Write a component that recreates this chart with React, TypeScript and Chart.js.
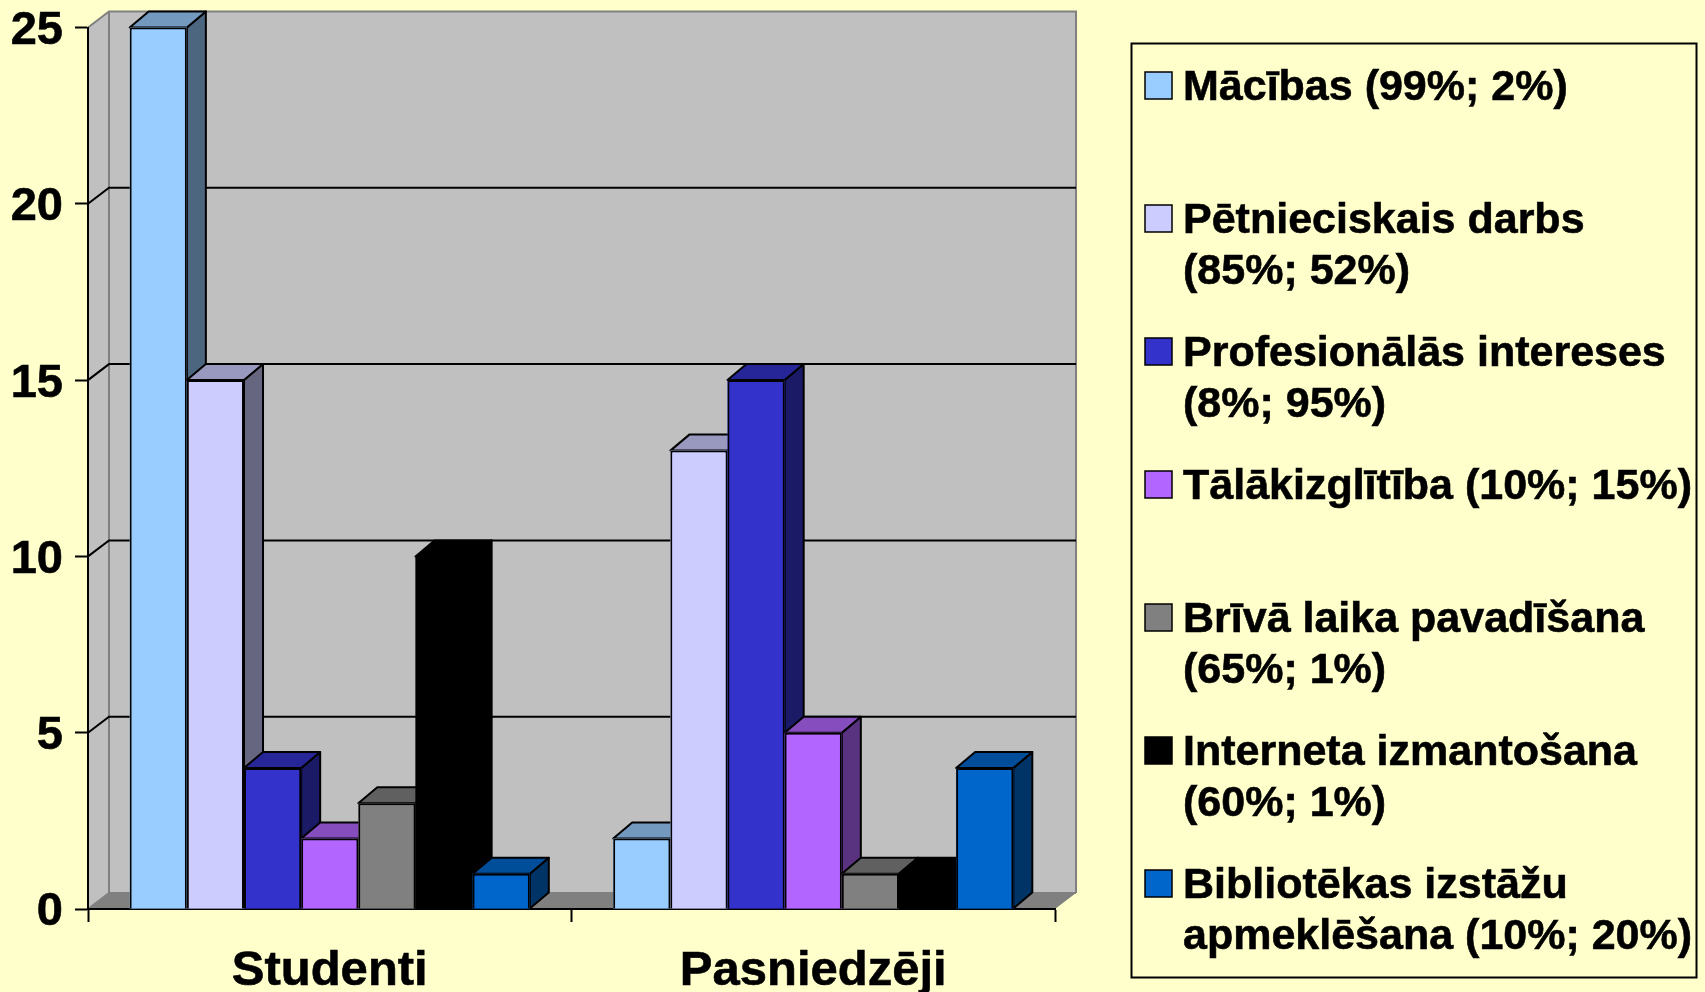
import React, { useEffect, useRef } from "react";
import { Chart, registerables } from "chart.js";

Chart.register(...registerables);

const categories = ["Studenti", "Pasniedzēji"];
const seriesNames = [
  "Mācības (99%; 2%)",
  "Pētnieciskais darbs (85%; 52%)",
  "Profesionālās intereses (8%; 95%)",
  "Tālākizglītība (10%; 15%)",
  "Brīvā laika pavadīšana (65%; 1%)",
  "Interneta izmantošana (60%; 1%)",
  "Bibliotēkas izstāžu apmeklēšana (10%; 20%)",
];
const legendLines = [
  ["Mācības (99%; 2%)"],
  ["Pētnieciskais darbs", "(85%; 52%)"],
  ["Profesionālās intereses", "(8%; 95%)"],
  ["Tālākizglītība (10%; 15%)"],
  ["Brīvā laika pavadīšana", "(65%; 1%)"],
  ["Interneta izmantošana", "(60%; 1%)"],
  ["Bibliotēkas izstāžu", "apmeklēšana (10%; 20%)"],
];
const macibas = [25, 2];
const petnieciskais = [15, 13];
const profesionalas = [4, 15];
const talakizglitiba = [2, 5];
const brivaLaika = [3, 1];
const interneta = [10, 1];
const biblioteka = [1, 4];
const seriesValues = [macibas, petnieciskais, profesionalas, talakizglitiba, brivaLaika, interneta, biblioteka];
const seriesColors = ["#99CCFF", "#CCCCFF", "#3333CC", "#B266FF", "#808080", "#000000", "#0066CC"];

const FONT = '"Liberation Sans", Arial, sans-serif';
const PAGE_BG = "#FFFFCC";
const WALL = "#C0C0C0";
const FLOOR = "#808080";
const WALL_DX = 21;
const WALL_DY = 16;
const BAR_DX = 19;
const BAR_DY = 16;

function shade(hex: string, f: number) {
  const n = parseInt(hex.slice(1), 16);
  const c = [(n >> 16) & 255, (n >> 8) & 255, n & 255].map((v) => Math.round(v * f));
  return `rgb(${c[0]},${c[1]},${c[2]})`;
}

function poly(ctx: CanvasRenderingContext2D, pts: number[][], fill: string, stroke: string | null, lw = 2) {
  ctx.beginPath();
  pts.forEach((p, i) => (i ? ctx.lineTo(p[0], p[1]) : ctx.moveTo(p[0], p[1])));
  ctx.closePath();
  ctx.fillStyle = fill;
  ctx.fill();
  if (stroke) {
    ctx.strokeStyle = stroke;
    ctx.lineWidth = lw;
    ctx.lineJoin = "round";
    ctx.stroke();
  }
}

const walls3d = {
  id: "walls3d",
  beforeDraw(chart: any) {
    const { ctx, chartArea: a, scales } = chart;
    const { left: l, right: r, bottom: b, top: t } = a;

    // nudge the value labels down to sit like the reference's
    const items = scales.y.getLabelItems(a);
    if (!items._nudged) {
      items.forEach((it: any) => {
        it.options.translation = [it.options.translation[0], it.options.translation[1] + 3.5];
      });
      items._nudged = true;
    }

    ctx.save();
    poly(ctx, [[l, t], [l + WALL_DX, t - WALL_DY], [l + WALL_DX, b - WALL_DY], [l, b]], WALL, null);
    poly(ctx, [[l + WALL_DX, t - WALL_DY], [r + WALL_DX, t - WALL_DY], [r + WALL_DX, b - WALL_DY], [l + WALL_DX, b - WALL_DY]], WALL, null);
    poly(ctx, [[l, b], [l + WALL_DX, b - WALL_DY], [r + WALL_DX, b - WALL_DY], [r, b]], FLOOR, null);

    // wall outlines
    ctx.strokeStyle = FLOOR;
    ctx.lineWidth = 2;
    ctx.beginPath();
    ctx.moveTo(l, t);
    ctx.lineTo(l + WALL_DX, t - WALL_DY);
    ctx.lineTo(r + WALL_DX, t - WALL_DY);
    ctx.lineTo(r + WALL_DX, b - WALL_DY);
    ctx.moveTo(l + WALL_DX, t - WALL_DY);
    ctx.lineTo(l + WALL_DX, b - WALL_DY);
    ctx.lineTo(l, b);
    ctx.moveTo(l + WALL_DX, b - WALL_DY);
    ctx.lineTo(r + WALL_DX, b - WALL_DY);
    ctx.stroke();

    // grid lines across the side wall and the back wall
    ctx.strokeStyle = "#000000";
    ctx.lineWidth = 2;
    scales.y.ticks.forEach((tk: any) => {
      if (tk.value === 0 || tk.value === 25) return;
      const y = scales.y.getPixelForValue(tk.value);
      ctx.beginPath();
      ctx.moveTo(l, y);
      ctx.lineTo(l + WALL_DX, y - WALL_DY);
      ctx.lineTo(r + WALL_DX, y - WALL_DY);
      ctx.stroke();
    });
    ctx.restore();
  },
  beforeDatasetDraw() {
    return false;
  },
  afterDatasetsDraw(chart: any) {
    const { ctx } = chart;
    ctx.save();
    chart.data.datasets.forEach((ds: any, i: number) => {
      const meta = chart.getDatasetMeta(i);
      meta.data.forEach((bar: any) => {
        const { x, y, base, width } = bar.getProps(["x", "y", "base", "width"], true);
        const x0 = x - width / 2;
        const x1 = x + width / 2;
        poly(ctx, [[x1, y], [x1 + BAR_DX, y - BAR_DY], [x1 + BAR_DX, base - BAR_DY], [x1, base]], shade(ds.backgroundColor, 0.5), "#000", 2);
        poly(ctx, [[x0, y], [x0 + BAR_DX, y - BAR_DY], [x1 + BAR_DX, y - BAR_DY], [x1, y]], shade(ds.backgroundColor, 0.75), "#000", 2);
        poly(ctx, [[x0, y], [x1, y], [x1, base], [x0, base]], ds.backgroundColor, null);
        bar.draw(ctx);
      });
    });
    ctx.restore();

    // legend panel
    ctx.save();
    ctx.strokeStyle = "#000";
    ctx.lineWidth = 2;
    ctx.strokeRect(1131.5, 43.5, 565, 934);
    ctx.font = `bold 43px ${FONT}`;
    ctx.textBaseline = "middle";
    ctx.textAlign = "left";
    chart.data.datasets.forEach((ds: any, i: number) => {
      const rowY = 86 + i * 133;
      ctx.fillStyle = ds.backgroundColor;
      ctx.fillRect(1145, rowY - 14, 27, 27);
      ctx.strokeStyle = "#000";
      ctx.lineWidth = 1.5;
      ctx.strokeRect(1145, rowY - 14, 27, 27);
      ctx.fillStyle = "#000";
      ctx.lineWidth = 0.6;
      legendLines[i].forEach((line, k) => {
        ctx.fillText(line, 1183, rowY + 2 + k * 51);
        ctx.strokeText(line, 1183, rowY + 2 + k * 51);
      });
    });
    ctx.restore();
  },
};

export default function App() {
  const ref = useRef<HTMLCanvasElement>(null);
  useEffect(() => {
    document.body.style.margin = "0";
    document.body.style.background = PAGE_BG;
    const chart = new Chart(ref.current!, {
      type: "bar",
      data: {
        labels: categories,
        datasets: seriesNames.map((label, i) => ({
          label,
          data: seriesValues[i],
          backgroundColor: seriesColors[i],
          borderColor: "#000000",
          borderWidth: 2,
          barPercentage: 1,
          categoryPercentage: 0.8275,
        })),
      },
      options: {
        animation: false,
        responsive: false,
        layout: { autoPadding: false, padding: { left: 0, right: 650, top: 27.5, bottom: 0 } },
        plugins: { legend: { display: false }, tooltip: { enabled: false } },
        scales: {
          x: {
            afterFit: (s: any) => { s.height = 83; },
            border: { display: true, color: "#000", width: 2 },
            grid: { display: true, drawOnChartArea: false, drawTicks: true, tickLength: 13, tickColor: "#000", tickWidth: 2, offset: true },
            ticks: { color: "#000", padding: 20, maxRotation: 0, textStrokeColor: "#000", textStrokeWidth: 0.6, font: { family: FONT, size: 49, weight: "bold" } },
          },
          y: {
            min: 0,
            max: 25,
            afterFit: (s: any) => {
              s.width = 88;
              s.paddingTop = 0;
              s.paddingBottom = 0;
              if (s._margins) {
                s._margins.top = 0;
                s._margins.bottom = 0;
              }
            },
            border: { display: true, color: "#000", width: 2 },
            grid: { display: true, drawOnChartArea: false, drawTicks: true, tickLength: 13, tickColor: "#000", tickWidth: 2 },
            ticks: { stepSize: 5, color: "#000", padding: 12, textStrokeColor: "#000", textStrokeWidth: 0.6, font: { family: FONT, size: 47, weight: "bold" } },
          },
        },
      },
      plugins: [walls3d],
    } as any);
    return () => chart.destroy();
  }, []);
  return (
    <div style={{ position: "absolute", left: 0, top: 0, width: 1705, height: 992, background: PAGE_BG, overflow: "hidden" }}>
      <canvas ref={ref} width={1705} height={992} style={{ display: "block" }} />
    </div>
  );
}
